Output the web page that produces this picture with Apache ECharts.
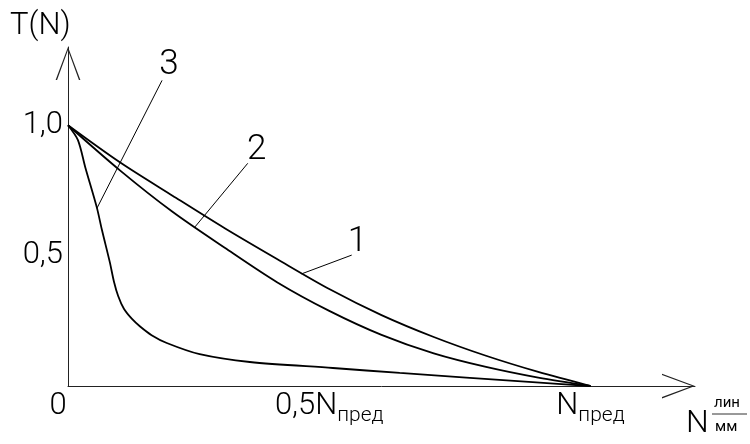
<!DOCTYPE html>
<html>
<head>
<meta charset="utf-8">
<script src="https://cdn.jsdelivr.net/npm/echarts@6/dist/echarts.min.js"></script>
<style>html,body{margin:0;padding:0;background:#fff}#c{width:750px;height:444px}</style>
</head>
<body>
<div id="c"></div>
<script>
// Normalised values: x in units of N_пред, y = T(N)
var curve1 = [[0,1.0],[0.1,0.857],[0.2,0.730],[0.3,0.605],[0.4,0.487],[0.5,0.372],[0.6,0.272],[0.7,0.188],[0.8,0.116],[0.9,0.054],[1.0,0.0]];
var curve2 = [[0,1.0],[0.1,0.826],[0.2,0.668],[0.3,0.530],[0.4,0.398],[0.5,0.288],[0.6,0.196],[0.7,0.125],[0.8,0.073],[0.9,0.032],[1.0,0.0]];
var curve3 = [[0,1.0],[0.019,0.943],[0.033,0.839],[0.055,0.686],[0.065,0.598],[0.080,0.475],[0.088,0.400],[0.096,0.345],[0.107,0.296],[0.122,0.258],[0.138,0.228],[0.160,0.195],[0.189,0.165],[0.252,0.122],[0.348,0.092],[0.507,0.069],[0.635,0.050],[0.889,0.015],[1.0,0.0]];
var curveNames = ['1','2','3'];
// leader lines: point on curve -> point near label; label centre
var leaderFrom = [[0.447,0.430],[0.243,0.610],[0.0555,0.682]];
var leaderTo   = [[0.543,0.502],[0.344,0.854],[0.180,1.172]];
var labelAt    = [[0.554,0.552],[0.361,0.904],[0.193,1.230]];
var yTickLabels = {'0':'', '0.5':'0,5', '1':'1,0'};
var xTickLabels = {'0':'{z|0}', '0.5':'0,5N{s|пред}', '1':'N{s|пред}'};

var FONT = "Roboto,'DejaVu Sans Condensed',sans-serif";
var AX = '#222';
var arrowPath = 'path://M12 0 L0 32 L1.4 32 L12 3 L22.6 32 L24 32 Z';

var chart = echarts.init(document.getElementById('c'), null, {renderer:'canvas'});
var curves = [curve1, curve2, curve3];
var series = curves.map(function(c, i){
  return {
    type:'line', data:c, smooth:0.3, showSymbol:false, silent:true,
    lineStyle:{color:'#000', width:1.8},
    markLine:{
      silent:true, symbol:['none','none'],
      lineStyle:{color:'#000', width:1, type:'solid'},
      label:{show:false},
      data:[[{coord:leaderFrom[i]},{coord:leaderTo[i]}]]
    },
    markPoint:{
      silent:true, symbol:'circle', symbolSize:1,
      itemStyle:{color:'rgba(0,0,0,0)'},
      label:{show:true, position:'inside', color:'#000', fontSize:35, fontWeight:300, fontFamily:FONT, formatter:curveNames[i]},
      data:[{coord:labelAt[i], value:curveNames[i]}]
    }
  };
});

chart.setOption({
  animation:false,
  backgroundColor:'#fff',
  title:{text:'T(N)', left:10, top:11, padding:0, textStyle:{fontSize:31, fontWeight:300, color:'#000', fontFamily:FONT}},
  grid:{left:68, right:55, top:47, bottom:58, containLabel:false},
  xAxis:{
    type:'value', min:0, max:1.2, interval:0.5,
    axisLine:{show:true, onZero:false, lineStyle:{color:AX, width:1}, symbol:['none', arrowPath], symbolSize:[25,33], symbolOffset:[0,-16.5]},
    axisTick:{show:false}, splitLine:{show:false},
    axisLabel:{
      margin:0, fontSize:31, fontWeight:300, lineHeight:40, color:'#000', fontFamily:FONT,
      formatter:function(v){ var k = String(Math.round(v*10)/10); return xTickLabels[k] !== undefined ? xTickLabels[k] : ''; },
      rich:{
        z:{fontSize:31, fontWeight:300, lineHeight:40, padding:[0,20,0,0], fontFamily:FONT, color:'#000'},
        s:{fontSize:21, fontWeight:300, lineHeight:20, verticalAlign:'bottom', fontFamily:FONT, color:'#000'}
      }
    }
  },
  yAxis:{
    type:'value', min:0, max:1.3, interval:0.5,
    axisLine:{show:true, onZero:false, lineStyle:{color:AX, width:1}, symbol:['none', arrowPath], symbolSize:[25,33], symbolOffset:[0,-16.5]},
    axisTick:{show:false}, splitLine:{show:false},
    axisLabel:{
      margin:5, fontSize:31, fontWeight:300, color:'#000', fontFamily:FONT,
      formatter:function(v){ var k = String(Math.round(v*10)/10); return yTickLabels[k] !== undefined ? yTickLabels[k] : ''; }
    }
  },
  graphic:[
    {type:'text', left:686, top:408, style:{text:'N', fontSize:32, fontWeight:300, fontFamily:FONT, fill:'#000'}},
    {type:'text', left:714, top:396, style:{text:'лин', fontSize:15, fontFamily:FONT, fill:'#000'}},
    {type:'line', shape:{x1:712, y1:414, x2:747, y2:414}, style:{stroke:'#333', lineWidth:1}},
    {type:'text', left:715, top:420, style:{text:'мм', fontSize:15, fontFamily:FONT, fill:'#000'}}
  ],
  series:series
});
</script>
</body>
</html>
